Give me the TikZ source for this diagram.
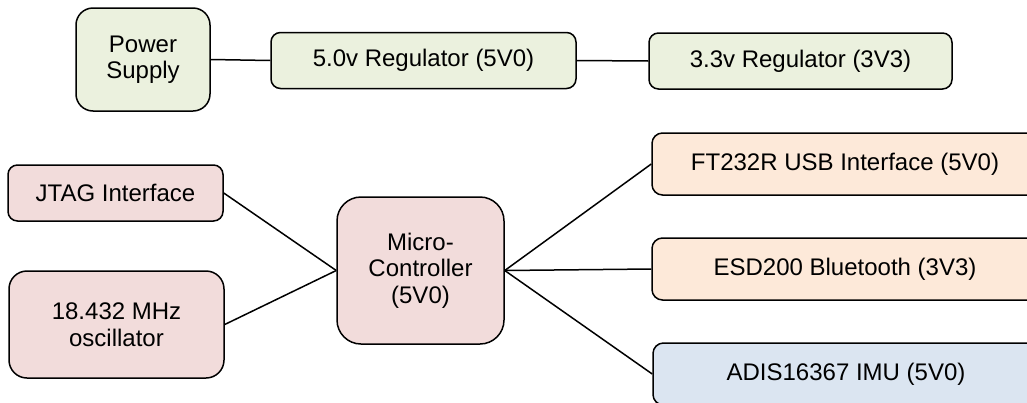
\documentclass[tikz,border=0pt]{standalone}
\usepackage{fontspec}
\setmainfont{Liberation Sans}
\definecolor{boxgreen}{RGB}{235,241,222}
\definecolor{boxpink}{RGB}{242,220,219}
\definecolor{boxorange}{RGB}{253,233,217}
\definecolor{boxblue}{RGB}{219,229,241}
\tikzset{
  blk/.style={draw=black, line width=1.5pt, rectangle, inner sep=0pt, align=center,
    font=\fontsize{24}{26.5}\selectfont, text=black},
  wire/.style={draw=black, line width=1.5pt}
}
\begin{document}
\begin{tikzpicture}[x=1pt,y=-1pt]
\useasboundingbox (0,0) rectangle (1027,402);
\clip (0,0) rectangle (1027,402);
\node[blk, fill=boxgreen, minimum width=134pt, minimum height=103pt, rounded corners=17pt] (ps) at (143,59.5) {Power\\Supply};
\node[blk, fill=boxgreen, minimum width=305pt, minimum height=56pt, rounded corners=9.5pt] (r5) at (423.5,60.5) {5.0v Regulator (5V0)};
\node[blk, fill=boxgreen, minimum width=303pt, minimum height=56pt, rounded corners=9.5pt] (r3) at (800.5,61) {3.3v Regulator (3V3)};
\node[blk, fill=boxpink, minimum width=215pt, minimum height=56pt, rounded corners=9.5pt] (jtag) at (115.5,193) {JTAG Interface};
\node[blk, fill=boxpink, minimum width=215pt, minimum height=107pt, rounded corners=18pt] (osc) at (116.5,324.5) {18.432 MHz\\oscillator};
\node[blk, fill=boxpink, minimum width=167pt, minimum height=147pt, rounded corners=24pt] (mc) at (420.5,270.5) {Micro-\\Controller\\(5V0)};
\node[blk, fill=boxorange, minimum width=386pt, minimum height=62pt, rounded corners=10.5pt] (ft) at (845,164) {FT232R USB Interface (5V0)};
\node[blk, fill=boxorange, minimum width=386pt, minimum height=62pt, rounded corners=10.5pt] (esd) at (845,269) {ESD200 Bluetooth (3V3)};
\node[blk, fill=boxblue, minimum width=386pt, minimum height=62pt, rounded corners=10.5pt] (imu) at (846,374) {ADIS16367 IMU (5V0)};
\draw[wire] (ps.east) -- (r5.west);
\draw[wire] (r5.east) -- (r3.west);
\draw[wire] (jtag.east) -- (mc.west);
\draw[wire] (osc.east) -- (mc.west);
\draw[wire] (mc.east) -- (ft.west);
\draw[wire] (mc.east) -- (esd.west);
\draw[wire] (mc.east) -- (imu.west);
\end{tikzpicture}
\end{document}
